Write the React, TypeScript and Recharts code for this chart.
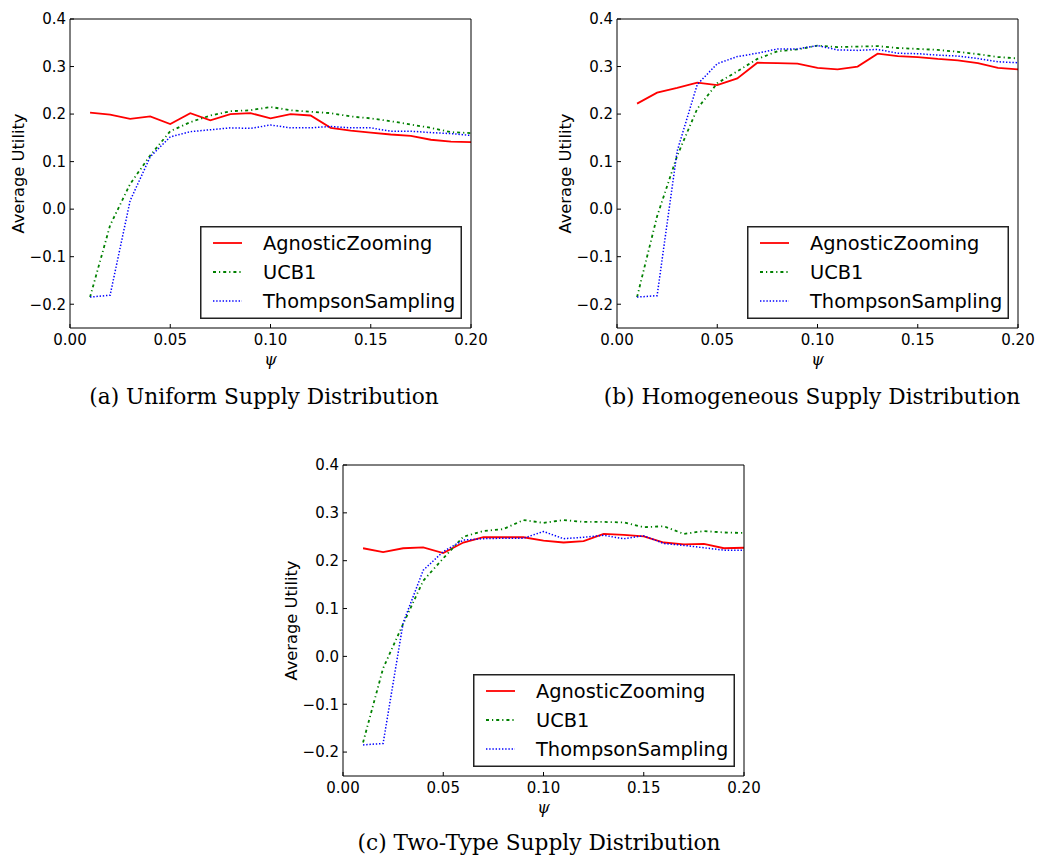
import React from 'react';
import { LineChart, Line, XAxis, YAxis, Legend, Label } from 'recharts';

const psi = [0.01, 0.02, 0.03, 0.04, 0.05, 0.06, 0.07, 0.08, 0.09, 0.1, 0.11, 0.12, 0.13, 0.14, 0.15, 0.16, 0.17, 0.18, 0.19, 0.2];

const uniformAgnostic = [0.203, 0.199, 0.19, 0.195, 0.179, 0.202, 0.187, 0.2, 0.202, 0.191, 0.2, 0.197, 0.171, 0.165, 0.161, 0.157, 0.154, 0.146, 0.142, 0.141];
const uniformUCB1 = [-0.185, -0.034, 0.053, 0.113, 0.164, 0.183, 0.197, 0.206, 0.208, 0.215, 0.208, 0.205, 0.202, 0.195, 0.191, 0.185, 0.178, 0.171, 0.162, 0.16];
const uniformThompson = [-0.185, -0.181, 0.018, 0.11, 0.152, 0.163, 0.167, 0.171, 0.17, 0.177, 0.171, 0.171, 0.174, 0.171, 0.171, 0.164, 0.164, 0.161, 0.159, 0.155];

const homogeneousAgnostic = [0.222, 0.245, 0.255, 0.266, 0.261, 0.275, 0.308, 0.307, 0.306, 0.297, 0.294, 0.3, 0.327, 0.322, 0.32, 0.316, 0.313, 0.307, 0.297, 0.294];
const homogeneousUCB1 = [-0.185, -0.015, 0.112, 0.211, 0.265, 0.29, 0.316, 0.332, 0.336, 0.344, 0.341, 0.342, 0.343, 0.339, 0.337, 0.335, 0.331, 0.326, 0.32, 0.317];
const homogeneousThompson = [-0.185, -0.182, 0.122, 0.262, 0.306, 0.321, 0.328, 0.337, 0.337, 0.344, 0.335, 0.334, 0.336, 0.328, 0.327, 0.324, 0.322, 0.317, 0.31, 0.308];

const twoTypeAgnostic = [0.226, 0.218, 0.226, 0.228, 0.216, 0.238, 0.249, 0.249, 0.249, 0.242, 0.238, 0.241, 0.256, 0.254, 0.251, 0.238, 0.234, 0.235, 0.226, 0.227];
const twoTypeUCB1 = [-0.18, -0.025, 0.068, 0.158, 0.205, 0.25, 0.262, 0.266, 0.285, 0.279, 0.285, 0.281, 0.281, 0.28, 0.27, 0.272, 0.256, 0.262, 0.259, 0.258];
const twoTypeThompson = [-0.185, -0.182, 0.07, 0.18, 0.219, 0.243, 0.246, 0.247, 0.247, 0.261, 0.246, 0.249, 0.253, 0.246, 0.252, 0.236, 0.232, 0.227, 0.222, 0.222];

const xTicks = [0, 0.05, 0.1, 0.15, 0.2];
const yTicks = [-0.2, -0.1, 0, 0.1, 0.2, 0.3, 0.4];
const seriesNames = ['AgnosticZooming', 'UCB1', 'ThompsonSampling'];
const captions = ['(a) Uniform Supply Distribution', '(b) Homogeneous Supply Distribution', '(c) Two-Type Supply Distribution'];

const seriesStyles = [
  { key: 'az', color: '#ff0000', dash: undefined as string | undefined, width: 1.8 },
  { key: 'ucb', color: '#008000', dash: '3 3 1.2 3', width: 1.8 },
  { key: 'ts', color: '#0000ff', dash: '1.4 1.8', width: 1.5 },
];

const fmtY = (v: number) => (v < -1e-9 ? '\u2212' : '') + Math.abs(v).toFixed(1);
const fmtX = (v: number) => v.toFixed(2);

const tickFont = { fontSize: 15, fill: '#000', fontFamily: 'DejaVu Sans' };
const LEG_W = 262;
const LEG_H = 93;

function LegendBox() {
  return (
    <svg width={LEG_W} height={LEG_H} style={{ display: 'block' }}>
      <rect x={0.75} y={0.75} width={LEG_W - 1.5} height={LEG_H - 1.5} fill="#fff" stroke="#222" strokeWidth={1.5} />
      {seriesStyles.map((s, i) => {
        const cy = 17 + 29 * i;
        return (
          <g key={s.key}>
            <line x1={13} x2={42} y1={cy} y2={cy} stroke={s.color} strokeWidth={s.width} strokeDasharray={s.dash} />
            <text x={63} y={cy} dominantBaseline="central" fontFamily="DejaVu Sans" fontSize={19.4} fill="#000">
              {seriesNames[i]}
            </text>
          </g>
        );
      })}
    </svg>
  );
}

type PanelProps = {
  plotLeft: number; plotTop: number; pw: number; ph: number;
  az: number[]; ucb: number[]; ts: number[];
  caption: string; captionX: number; captionY: number;
};

function Panel({ plotLeft, plotTop, pw, ph, az, ucb, ts, caption, captionX, captionY }: PanelProps) {
  const data = psi.map((x, i) => ({ psi: x, az: az[i], ucb: ucb[i], ts: ts[i] }));
  const W = pw + 100;
  const H = ph + 80;
  const legLeft = 70 + pw - 9 - LEG_W;
  const legTop = 19 + ph - 9 - LEG_H;
  return (
    <>
      <div style={{ position: 'absolute', left: plotLeft - 70, top: plotTop - 19 }}>
        <LineChart width={W} height={H} data={data} margin={{ top: 18, left: 10, right: 29, bottom: 31 }}>
          <XAxis dataKey="psi" type="number" domain={[0, 0.2]} ticks={xTicks} interval={0}
            tickFormatter={fmtX} tickSize={-4} tickMargin={10} height={30}
            axisLine={{ stroke: '#000', strokeWidth: 1 }} tickLine={{ stroke: '#000' }} tick={tickFont} allowDataOverflow>
            <Label content={(p: any) => {
              const vb = p.viewBox || {};
              return (
                <text x={vb.x + vb.width / 2} y={vb.y + 31} textAnchor="middle" dominantBaseline="central"
                  fontFamily="DejaVu Serif" fontStyle="italic" fontSize={16} fill="#000">ψ</text>
              );
            }} />
          </XAxis>
          <XAxis xAxisId="top" orientation="top" dataKey="psi" type="number" domain={[0, 0.2]} ticks={xTicks} interval={0}
            height={1} tickSize={-4} tick={false} axisLine={{ stroke: '#000', strokeWidth: 1 }} tickLine={{ stroke: '#000' }} allowDataOverflow />
          <YAxis type="number" domain={[-0.25, 0.4]} ticks={yTicks} interval={0} tickFormatter={fmtY}
            tickSize={-4} tickMargin={8} width={60}
            axisLine={{ stroke: '#000', strokeWidth: 1 }} tickLine={{ stroke: '#000' }} tick={tickFont} allowDataOverflow>
            <Label content={(p: any) => {
              const vb = p.viewBox || {};
              const cx = vb.x + 8;
              const cy = vb.y + vb.height / 2;
              return (
                <text x={cx} y={cy} transform={`rotate(-90 ${cx} ${cy})`} textAnchor="middle" dominantBaseline="central"
                  fontFamily="DejaVu Sans" fontSize={16.3} fill="#000">Average Utility</text>
              );
            }} />
          </YAxis>
          <YAxis yAxisId="right" orientation="right" type="number" domain={[-0.25, 0.4]} ticks={yTicks} interval={0}
            width={1} tickSize={-4} tick={false} axisLine={{ stroke: '#000', strokeWidth: 1 }} tickLine={{ stroke: '#000' }} allowDataOverflow />
          {seriesStyles.map((s, i) => (
            <Line key={s.key} type="linear" dataKey={s.key} name={seriesNames[i]} stroke={s.color}
              strokeWidth={s.width} strokeDasharray={s.dash} dot={false} activeDot={false} isAnimationActive={false} />
          ))}
          <Legend layout="horizontal" verticalAlign="middle" align="center"
            wrapperStyle={{ left: legLeft, top: legTop, width: LEG_W, height: LEG_H, bottom: 'auto', right: 'auto' }}
            content={() => <LegendBox />} />
        </LineChart>
      </div>
      <div style={{
        position: 'absolute', left: captionX, top: captionY, transform: 'translate(-50%, -50%)',
        whiteSpace: 'nowrap', fontFamily: 'DejaVu Serif', fontSize: 21.7, color: '#000', lineHeight: 1,
      }}>{caption}</div>
    </>
  );
}

export default function App() {
  return (
    <div style={{ position: 'absolute', left: 0, top: 0, width: 1039, height: 857, background: '#fff', overflow: 'hidden' }}>
      <Panel plotLeft={70} plotTop={18.7} pw={401} ph={309}
        az={uniformAgnostic} ucb={uniformUCB1} ts={uniformThompson}
        caption={captions[0]} captionX={264} captionY={397} />
      <Panel plotLeft={617} plotTop={18.7} pw={401} ph={309}
        az={homogeneousAgnostic} ucb={homogeneousUCB1} ts={homogeneousThompson}
        caption={captions[1]} captionX={812} captionY={397} />
      <Panel plotLeft={343.3} plotTop={464.5} pw={401} ph={311}
        az={twoTypeAgnostic} ucb={twoTypeUCB1} ts={twoTypeThompson}
        caption={captions[2]} captionX={539} captionY={843} />
    </div>
  );
}
